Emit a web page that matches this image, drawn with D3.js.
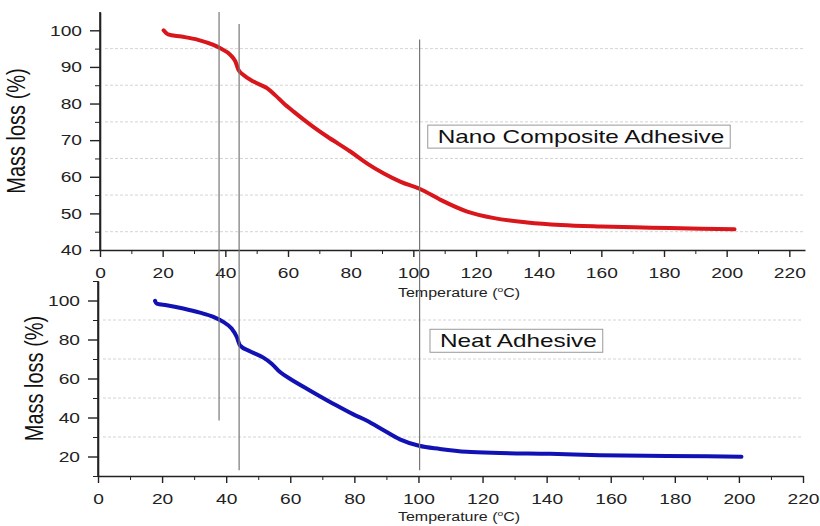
<!DOCTYPE html>
<html>
<head>
<meta charset="utf-8">
<script src="https://cdn.jsdelivr.net/npm/d3@7"></script>
<style>
  body { margin: 0; background: #fff; }
  svg { display: block; font-family: "Liberation Sans", Arial, sans-serif; }
</style>
</head>
<body>
<div id="chart"></div>
<script>
// TGA curves
const nanoTemp = [20.3, 21.7, 26, 31.3, 36.2, 38.4, 41.6, 43.2, 44.2, 45.8, 49, 53.3, 55.9, 58.6, 61.8, 67.2, 72.5, 79.9, 85.3, 90.6, 96, 102.3, 108.7, 117.2, 125.8, 136.4, 147.1, 159.9, 175.9, 191.9, 202.5];
const nanoMass = [100, 98.9, 98.3, 97.4, 96, 95.1, 93.3, 91.5, 89.2, 87.8, 86, 84.2, 82.3, 80.1, 77.8, 74.2, 71, 66.9, 63.6, 60.9, 58.6, 56.6, 53.7, 50.5, 48.7, 47.5, 46.8, 46.4, 46.1, 45.8, 45.7];

const neatTemp = [17.8, 18.3, 21.4, 26.6, 31.8, 36, 39.1, 41.7, 43.3, 44.3, 47.4, 51.6, 54.2, 56.8, 59.9, 66.1, 73.4, 79.7, 83.8, 89, 94.2, 100.2, 106.7, 115, 125.4, 141, 156.6, 177.4, 200.8];
const neatMass = [99.8, 98.4, 97.6, 95.9, 93.8, 91.6, 89, 85.6, 81.3, 77, 74, 70.7, 67.6, 63.3, 59.9, 53.9, 47.1, 41.6, 38.5, 33.6, 28.8, 25.5, 23.9, 22.4, 21.8, 21.4, 20.7, 20.3, 19.9];

// x tick labels and y ticks for each panel
const xTicks = [0, 20, 40, 60, 80, 100, 120, 140, 160, 180, 200, 220];
const xMinor = [10, 30, 50, 70, 90, 110, 130, 150, 170, 190, 210];
const topYTicks = [40, 50, 60, 70, 80, 90, 100];
const topYMinor = [45, 55, 65, 75, 85, 95];
const botYTicks = [20, 40, 60, 80, 100];
const botYMinor = [10, 30, 50, 70, 90, 110];

// vertical marker lines: temperature, top-panel start value, bottom-panel end value
const markerTemp = [38, 44.4, 102];
const markerTop = [105, 101.7, 97.5];
const markerBottom = [38.5, 13, 13];

const W = 820, H = 526;
const SX = 1.28; // the source picture is stretched horizontally

const svg = d3.select('#chart').append('svg')
    .attr('width', W)
    .attr('height', H);

const topX = d3.scaleLinear().domain([0, 225]).range([100, 805]);
const topY = d3.scaleLinear().domain([40, 105]).range([250, 12]);
const botX = d3.scaleLinear().domain([0, 220]).range([98, 803]);
const botY = d3.scaleLinear().domain([10, 110]).range([476, 281]);

function drawPanel(cfg) {
    const g = svg.append('g');
    const x = cfg.x, y = cfg.y;
    const x0 = x.range()[0], x1 = x.range()[1];
    const yBase = y.range()[0];

    // dashed grid on minor values
    g.selectAll('.grid')
        .data(cfg.grid)
        .enter().append('line')
        .attr('x1', x0 + 5)
        .attr('x2', x1)
        .attr('y1', d => y(d))
        .attr('y2', d => y(d))
        .attr('stroke', '#d4d4d4')
        .attr('stroke-width', 1)
        .attr('stroke-dasharray', '3,2');

    // minor ticks
    g.append('g')
        .attr('transform', `translate(0,${yBase})`)
        .call(d3.axisBottom(x).tickValues(xMinor).tickSize(4).tickFormat(''))
        .call(a => a.select('.domain').remove());
    g.append('g')
        .attr('transform', `translate(${x0},0)`)
        .call(d3.axisLeft(y).tickValues(cfg.yMinor).tickSize(5).tickFormat(''))
        .call(a => a.select('.domain').remove());

    // main axes
    const xa = g.append('g')
        .attr('transform', `translate(0,${yBase})`)
        .call(d3.axisBottom(x).tickValues(xTicks).tickSize(7).tickSizeOuter(0).tickPadding(10));
    const ya = g.append('g')
        .attr('transform', `translate(${x0},0)`)
        .call(d3.axisLeft(y).tickValues(cfg.yTicks).tickSize(10).tickSizeOuter(0).tickPadding(14));

    [xa, ya].forEach(a => {
        a.select('.domain').attr('stroke', '#222').attr('stroke-width', 1.6);
        a.selectAll('.tick line').attr('stroke', '#222').attr('stroke-width', 1.4);
        a.selectAll('.tick text')
            .attr('fill', '#222')
            .style('font-size', '15px')
            .attr('transform', `scale(${SX},1)`);
    });
    ya.selectAll('.tick text').attr('x', -18 / SX);
    g.selectAll('.tick line').attr('stroke', '#222');

    // y axis line starts at the top of the frame
    g.append('line')
        .attr('x1', x0).attr('x2', x0)
        .attr('y1', y.range()[1]).attr('y2', yBase)
        .attr('stroke', '#222').attr('stroke-width', 1.6);

    // curve
    const line = d3.line()
        .x(d => x(d[0]))
        .y(d => y(d[1]))
        .curve(d3.curveMonotoneX);
    g.append('path')
        .datum(d3.zip(cfg.temp, cfg.mass))
        .attr('d', line)
        .attr('fill', 'none')
        .attr('stroke', cfg.color)
        .attr('stroke-width', 4)
        .attr('stroke-linecap', 'round');

    // axis titles
    g.append('text')
        .attr('transform', `translate(${cfg.yLabelX},${(y.range()[0] + y.range()[1]) / 2}) scale(${SX},1) rotate(-90)`)
        .attr('text-anchor', 'middle')
        .style('font-size', '20px')
        .attr('fill', '#111')
        .text('Mass loss (%)');

    const t = g.append('text')
        .attr('transform', `translate(459,${yBase + cfg.xLabelDy}) scale(${SX},1)`)
        .attr('text-anchor', 'middle')
        .style('font-size', '12.5px')
        .attr('fill', '#222');
    t.append('tspan').text('Temperature (');
    t.append('tspan').attr('dy', -5).style('font-size', '8px').text('o');
    t.append('tspan').attr('dy', 5).text('C)');

    // boxed legend label
    const lg = g.append('g')
        .attr('transform', `translate(${x(cfg.labelAt[0])},${y(cfg.labelAt[1])})`);
    const lt = lg.append('text')
        .attr('transform', `translate(10,7) scale(${SX},1)`)
        .style('font-size', '19px')
        .attr('fill', '#111')
        .text(cfg.label);
    const bw = lt.node().getBBox().width * SX;
    lg.insert('rect', 'text')
        .attr('x', 0)
        .attr('y', -11)
        .attr('width', bw + 16)
        .attr('height', 23)
        .attr('fill', '#fff')
        .attr('stroke', '#999')
        .attr('stroke-width', 1);
}

drawPanel({
    x: topX, y: topY, temp: nanoTemp, mass: nanoMass, color: '#d8161c',
    grid: topYMinor, yTicks: topYTicks, yMinor: topYMinor,
    yLabelX: 25, xLabelDy: 47,
    label: 'Nano Composite Adhesive', labelAt: [104.6, 71.1]
});

drawPanel({
    x: botX, y: botY, temp: neatTemp, mass: neatMass, color: '#1212b4',
    grid: [30, 50, 70, 90], yTicks: botYTicks, yMinor: botYMinor,
    yLabelX: 43, xLabelDy: 45,
    label: 'Neat Adhesive', labelAt: [103.6, 79.6]
});

// vertical marker lines crossing both panels
svg.selectAll('.marker')
    .data(d3.zip(markerTemp, markerTop, markerBottom))
    .enter().append('line')
    .attr('x1', d => topX(d[0]))
    .attr('x2', d => topX(d[0]))
    .attr('y1', d => topY(d[1]))
    .attr('y2', d => botY(d[2]))
    .attr('stroke', '#777')
    .attr('stroke-width', 1.2);
</script>
</body>
</html>
